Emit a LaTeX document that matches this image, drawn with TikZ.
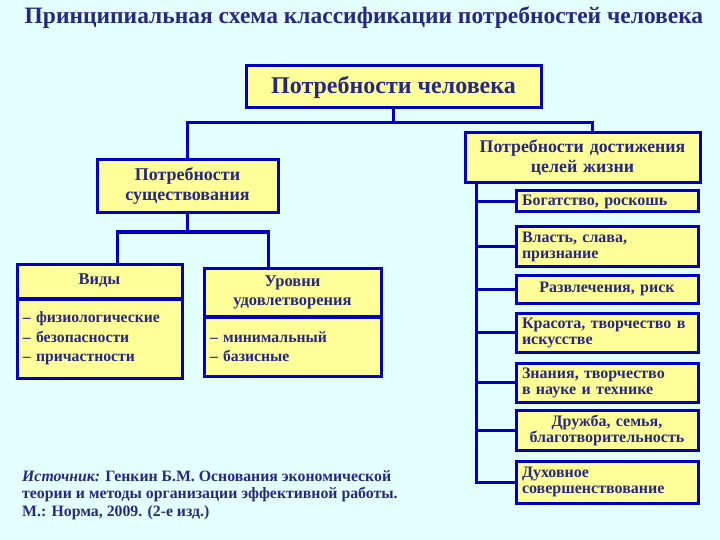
\documentclass[tikz,border=0pt]{standalone}
\usepackage{fontspec}
\setmainfont{Liberation Serif}
\definecolor{bgc}{RGB}{228,255,255}
\definecolor{fillc}{RGB}{255,255,153}
\definecolor{linec}{RGB}{0,0,190}
\definecolor{txtc}{RGB}{40,40,128}
\begin{document}
\begin{tikzpicture}[x=1pt,y=-1pt,
  box/.style={draw=linec, fill=fillc, line width=3pt, inner sep=0pt, text=txtc,
    font=\bfseries\fontsize{16}{16}\selectfont, align=center},
  conn/.style={draw=linec, line width=3pt},
  lbox/.style={box, align=left},
]
\path[fill=bgc, use as bounding box] (0,0) rectangle (720,540);

\node[text=txtc, font=\bfseries\fontsize{23.5}{26}\selectfont] (title) at (364,18)
  {Принципиальная схема классификации потребностей человека};

\node[box, font=\bfseries\fontsize{24}{26}\selectfont, minimum width=295, minimum height=42] (top) at (393.5,87) {Потребности человека};

\node[box, font=\bfseries\fontsize{18}{20}\selectfont, minimum width=181, minimum height=53, text width=175] (exist) at (187.5,186.5) {Потребности\\существования};

\node[box, font=\bfseries\fontsize{17.8}{20}\selectfont, minimum width=235, minimum height=50, text width=231] (achv) at (582.5,158) {Потребности достижения\\целей жизни};

\node[box, font=\bfseries\fontsize{16.5}{19}\selectfont, minimum width=165, minimum height=34, text width=155] (vidyh) at (99.5,281) {Виды};
\node[lbox, font=\bfseries\fontsize{15.7}{19.5}\selectfont, minimum width=165, minimum height=79, text width=153] (vidyl) at (99.5,338.5) {– физиологические\\– безопасности\\– причастности};

\node[box, font=\bfseries\fontsize{16.5}{19}\selectfont, minimum width=177, minimum height=48, text width=167] (urovh) at (292.5,292) {Уровни\\удовлетворения};
\node[lbox, font=\bfseries\fontsize{15.7}{19.5}\selectfont, minimum width=177, minimum height=59, text width=165] (urovl) at (292.5,346.5) {– минимальный\\– базисные};

\node[lbox, minimum width=182, minimum height=21, text width=170] (d1) at (607,201.5) {Богатство, роскошь};
\node[lbox, minimum width=182, minimum height=39, text width=170] (d2) at (607,246.5) {Власть, слава,\\признание};
\node[box, minimum width=182, minimum height=28, text width=170] (d3) at (607,289) {Развлечения, риск};
\node[lbox, minimum width=182, minimum height=39, text width=170] (d4) at (607,332.5) {Красота, творчество в\\искусстве};
\node[lbox, minimum width=182, minimum height=39, text width=170] (d5) at (607,382.5) {Знания, творчество\\в науке и технике};
\node[box, minimum width=182, minimum height=40, text width=170] (d6) at (607,430) {Дружба, семья,\\благотворительность};
\node[lbox, minimum width=182, minimum height=42, text width=170] (d7) at (607,482) {Духовное\\совершенствование};

\node[anchor=north west, inner sep=0pt, text=txtc, align=left, font=\bfseries\fontsize{15.8}{17.5}\selectfont] (src) at (22,470)
  {\textit{Источник:} Генкин Б.М. Основания экономической\\теории и методы организации эффективной работы.\\М.: Норма, 2009. (2-е изд.)};

% connectors
\coordinate (bar) at (0,123);
\coordinate (ar) at ([xshift=10pt]achv.north);
\draw[conn] (top.south) -- (top.south |- bar);
\draw[conn] (exist.north) -- (exist.north |- bar) -- (ar |- bar) -- (ar);

\coordinate (bar2) at (0,232);
\coordinate (vl) at ([xshift=17.5pt]vidyh.north);
\coordinate (ur) at ([xshift=-24.5pt]urovh.north);
\draw[conn] (exist.south) -- (exist.south |- bar2);
\draw[conn] (vl) -- (vl |- bar2) -- (ur |- bar2) -- (ur);

\coordinate (sp) at ([xshift=13pt]achv.south west);
\draw[conn] (sp) |- (d7.west);
\foreach \i in {1,...,6} { \draw[conn] (sp |- d\i.west) -- (d\i.west); }
\end{tikzpicture}
\end{document}
